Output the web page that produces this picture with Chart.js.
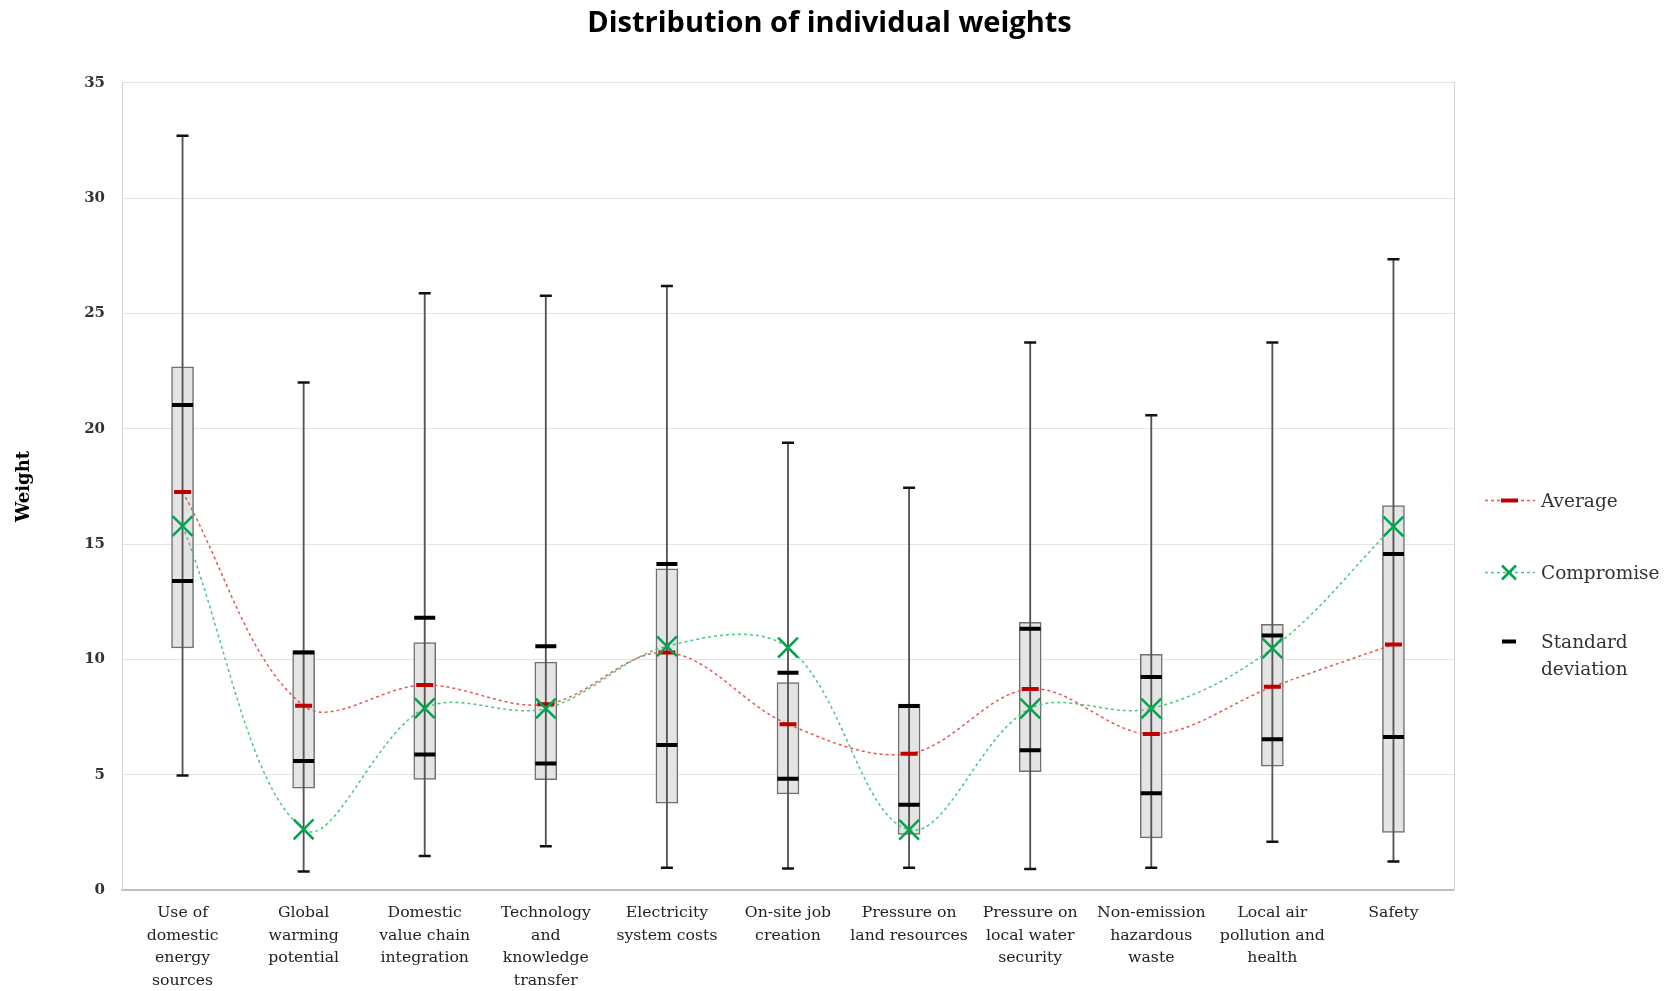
<!DOCTYPE html>
<html>
<head>
<meta charset="utf-8">
<script src="https://cdn.jsdelivr.net/npm/chart.js@4.4.1/dist/chart.umd.min.js"></script>
<style>
  html, body { margin: 0; padding: 0; background: #fff; }
  #wrap { position: relative; width: 1673px; height: 991px; }
  #legend { position: absolute; left: 1485px; top: 0; font-family: "DejaVu Serif", serif; font-size: 18.5px; color: #333; }
  .item { position: absolute; left: 0; display: flex; align-items: flex-start; white-space: nowrap; }
  .item svg { flex: none; margin-right: 6px; }
  .item span { line-height: 27px; }
</style>
</head>
<body>
<div id="wrap">
  <canvas id="chart" width="1673" height="991"></canvas>
  <div id="legend">
    <div class="item" style="top:487px">
      <svg width="50" height="27"><line x1="0" y1="13.5" x2="50" y2="13.5" stroke="#e05a55" stroke-width="1.5" stroke-dasharray="3,3"/><line x1="16" y1="13.5" x2="33" y2="13.5" stroke="#c00000" stroke-width="4"/></svg>
      <span>Average</span>
    </div>
    <div class="item" style="top:559px">
      <svg width="50" height="27"><line x1="0" y1="13.5" x2="50" y2="13.5" stroke="#4cc77f" stroke-width="1.5" stroke-dasharray="3,3"/><line x1="17" y1="6.5" x2="31" y2="20.5" stroke="#00a550" stroke-width="2.5"/><line x1="31" y1="6.5" x2="17" y2="20.5" stroke="#00a550" stroke-width="2.5"/></svg>
      <span>Compromise</span>
    </div>
    <div class="item" style="top:628px">
      <svg width="50" height="27"><line x1="17" y1="13.5" x2="31" y2="13.5" stroke="#000" stroke-width="4"/></svg>
      <span>Standard<br>deviation</span>
    </div>
  </div>
</div>
<script>
// categories (multi-line labels)
const categories = [
    ["Use of", "domestic", "energy", "sources"],
    ["Global", "warming", "potential"],
    ["Domestic", "value chain", "integration"],
    ["Technology", "and", "knowledge", "transfer"],
    ["Electricity", "system costs"],
    ["On-site job", "creation"],
    ["Pressure on", "land resources"],
    ["Pressure on", "local water", "security"],
    ["Non-emission", "hazardous", "waste"],
    ["Local air", "pollution and", "health"],
    ["Safety"]
];

// values
const maxVals    = [32.7, 22.0, 25.87, 25.77, 26.19, 19.39, 17.44, 23.74, 20.59, 23.74, 27.35];
const minVals    = [4.96, 0.8, 1.47, 1.9, 0.97, 0.93, 0.96, 0.91, 0.96, 2.09, 1.24];
const boxHigh    = [22.68, 10.38, 10.73, 9.88, 13.93, 8.99, 8.06, 11.61, 10.22, 11.52, 16.67];
const boxLow     = [10.5, 4.41, 4.8, 4.78, 3.77, 4.17, 2.41, 5.13, 2.26, 5.37, 2.5];
const sdHigh     = [21.03, 10.3, 11.8, 10.57, 14.14, 9.42, 7.98, 11.33, 9.24, 11.04, 14.57];
const sdLow      = [13.4, 5.59, 5.87, 5.48, 6.29, 4.82, 3.7, 6.06, 4.2, 6.54, 6.63];
const average    = [17.26, 7.99, 8.89, 8.05, 10.3, 7.19, 5.91, 8.72, 6.76, 8.81, 10.65];
const compromise = [15.78, 2.63, 7.88, 7.87, 10.57, 10.51, 2.61, 7.87, 7.87, 10.48, 15.76];

const yTicks = { min: 0, max: 35, step: 5 };

const boxes = boxLow.map((v, i) => [v, boxHigh[i]]);
const whiskers = minVals.map((v, i) => [v, maxVals[i]]);

function marks(data, radius, width, color, order) {
    return {
        type: "line",
        data: data,
        showLine: false,
        pointStyle: "line",
        pointRadius: radius,
        pointHoverRadius: radius,
        pointBorderWidth: width,
        pointBorderColor: color,
        order: order
    };
}

const ctx = document.getElementById("chart").getContext("2d");

new Chart(ctx, {
    type: "bar",
    data: {
        labels: categories,
        datasets: [
            {
                label: "Compromise",
                type: "line",
                data: compromise,
                borderColor: "#4cc77f",
                borderWidth: 1.5,
                borderDash: [3, 3],
                tension: 0.35,
                pointStyle: "crossRot",
                pointRadius: 14,
                pointHoverRadius: 14,
                pointBorderWidth: 2.5,
                pointBorderColor: "#00a550",
                order: 1
            },
            {
                label: "Average",
                type: "line",
                data: average,
                borderColor: "#e05a55",
                borderWidth: 1.5,
                borderDash: [3, 3],
                tension: 0.35,
                pointStyle: "line",
                pointRadius: 8.5,
                pointHoverRadius: 8.5,
                pointBorderWidth: 4,
                pointBorderColor: "#c00000",
                order: 2
            },
            Object.assign({ label: "SD high" }, marks(sdHigh, 10.5, 4, "#000", 3)),
            Object.assign({ label: "SD low" }, marks(sdLow, 10.5, 4, "#000", 3)),
            Object.assign({ label: "Max" }, marks(maxVals, 6, 2.5, "#111", 4)),
            Object.assign({ label: "Min" }, marks(minVals, 6, 2.5, "#111", 4)),
            {
                label: "Range",
                data: whiskers,
                backgroundColor: "#555",
                borderWidth: 0,
                barThickness: 1.2,
                grouped: false,
                order: 5
            },
            {
                label: "Box",
                data: boxes,
                backgroundColor: "#e4e4e4",
                borderColor: "#707070",
                borderWidth: 1.5,
                borderSkipped: false,
                barThickness: 22,
                grouped: false,
                order: 6
            }
        ]
    },
    options: {
        responsive: false,
        animation: false,
        layout: { padding: { left: 0, right: 14, top: 0, bottom: 0 } },
        plugins: {
            legend: { display: false },
            tooltip: { enabled: false },
            title: {
                display: true,
                text: "Distribution of individual weights",
                color: "#000",
                font: { family: "Open Sans", size: 29, weight: "bold" },
                padding: { top: 6, bottom: 42 }
            }
        },
        scales: {
            x: {
                grid: { display: false, drawTicks: false },
                border: { color: "#bfbfbf", width: 2 },
                ticks: {
                    color: "#222",
                    padding: 12,
                    maxRotation: 0,
                    autoSkip: false,
                    font: { family: "DejaVu Serif", size: 15.7, lineHeight: 1.43 }
                },
                afterFit: scale => { scale.height = 101; }
            },
            y: {
                min: yTicks.min,
                max: yTicks.max,
                grid: { color: "#e4e4e4", drawTicks: false },
                border: { color: "#d4d4d4" },
                ticks: {
                    stepSize: yTicks.step,
                    color: "#333",
                    padding: 17,
                    font: { family: "DejaVu Serif", size: 15, weight: "bold" }
                },
                title: {
                    display: true,
                    text: "Weight",
                    color: "#000",
                    font: { family: "DejaVu Serif", size: 18, weight: "bold" },
                    padding: { top: 14, bottom: 0 }
                },
                afterFit: scale => { scale.width = 122; }
            },
            y2: {
                position: "right",
                min: yTicks.min,
                max: yTicks.max,
                grid: { display: false, drawTicks: false },
                border: { color: "#d4d4d4" },
                ticks: { display: false },
                afterFit: scale => { scale.width = 205; }
            }
        }
    }
});
</script>
</body>
</html>
